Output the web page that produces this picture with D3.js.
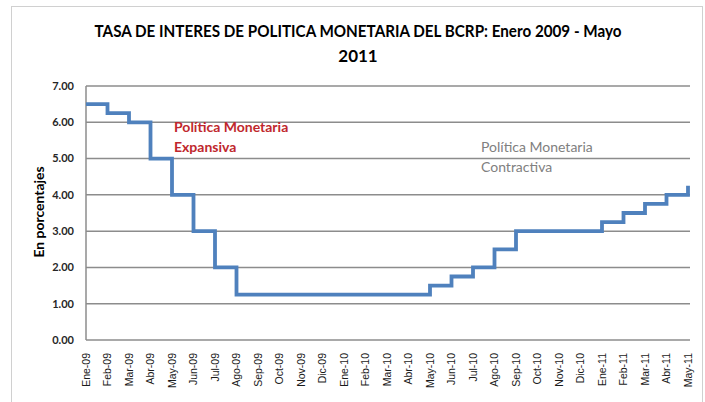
<!DOCTYPE html>
<html><head><meta charset="utf-8">
<script src="https://cdn.jsdelivr.net/npm/d3@7/dist/d3.min.js"></script>
<style>body{margin:0;background:#fff}svg{display:block}</style>
</head><body>
<script>
const months = ["Ene-09","Feb-09","Mar-09","Abr-09","May-09","Jun-09","Jul-09","Ago-09","Sep-09","Oct-09","Nov-09","Dic-09",
"Ene-10","Feb-10","Mar-10","Abr-10","May-10","Jun-10","Jul-10","Ago-10","Sep-10","Oct-10","Nov-10","Dic-10",
"Ene-11","Feb-11","Mar-11","Abr-11","May-11"];
const rates = [6.50,6.25,6.00,5.00,4.00,3.00,2.00,1.25,1.25,1.25,1.25,1.25,
1.25,1.25,1.25,1.25,1.50,1.75,2.00,2.50,3.00,3.00,3.00,3.00,
3.25,3.50,3.75,4.00,4.25];
const yTicks = [0,1,2,3,4,5,6,7];
const titleLines = ["TASA DE INTERES DE POLITICA MONETARIA DEL BCRP: Enero 2009 - Mayo","2011"];
const noteExp = ["Política Monetaria","Expansiva"];
const noteCon = ["Política Monetaria","Contractiva"];

const W=705,H=402;
const svg=d3.select("body").append("svg").attr("width",W).attr("height",H);
const font="Lato, 'Open Sans', sans-serif";

svg.append("rect").attr("x",11.5).attr("y",6.5).attr("width",691).attr("height",420)
  .attr("fill","#fff").attr("stroke","#d0d0d0").attr("stroke-width",1);

const x=d3.scalePoint().domain(months).range([86,688]);
const y=d3.scaleLinear().domain([0,7]).range([340,86]);

// gridlines
svg.append("g").selectAll("line").data(yTicks).join("line")
  .attr("x1",86).attr("x2",690).attr("y1",d=>y(d)).attr("y2",d=>y(d))
  .attr("stroke","#8c8c8c").attr("stroke-width",1.5);
// left axis line
svg.append("line").attr("x1",86).attr("x2",86).attr("y1",y(7)).attr("y2",y(0))
  .attr("stroke","#8c8c8c").attr("stroke-width",1.5);

// y labels
svg.append("g").selectAll("text").data(yTicks).join("text")
  .attr("x",74).attr("y",d=>y(d)).attr("dy","0.35em").attr("text-anchor","end")
  .attr("font-family",font).attr("font-size",11).attr("font-weight","bold").attr("fill","#262626")
  .text(d=>d3.format(".2f")(d));

// x labels
svg.append("g").selectAll("text").data(months).join("text")
  .attr("transform",d=>`translate(${x(d)},353) rotate(-90)`)
  .attr("text-anchor","end").attr("dy","0.35em")
  .attr("font-family","'Liberation Sans', Arial, sans-serif").attr("font-size",10.5).attr("fill","#1a1a1a")
  .text(d=>d);

// y title
svg.append("text").attr("transform","translate(39,212) rotate(-90)")
  .attr("text-anchor","middle").attr("dy","0.35em")
  .attr("font-family",font).attr("font-size",13).attr("font-weight","bold").attr("fill","#000")
  .attr("textLength",91).attr("lengthAdjust","spacingAndGlyphs")
  .text("En porcentajes");

// line
const line=d3.line().x((d,i)=>x(months[i])).y(d=>y(d)).curve(d3.curveStepAfter);
svg.append("path").datum(rates).attr("d",line).attr("fill","none")
  .attr("stroke","#4F81BD").attr("stroke-width",3.8);

// title
svg.append("g").selectAll("text").data(titleLines).join("text")
  .attr("x",358).attr("y",(d,i)=>37+i*25).attr("text-anchor","middle")
  .attr("font-family",font).attr("font-size",17).attr("font-weight","bold").attr("fill","#000")
  .each(function(d,i){ if(i===0) d3.select(this).attr("textLength",527).attr("lengthAdjust","spacingAndGlyphs"); })
  .text(d=>d);

// notes
svg.append("g").selectAll("text").data(noteExp).join("text")
  .attr("x",174).attr("y",(d,i)=>127+i*20).attr("dy","0.35em")
  .attr("font-family",font).attr("font-size",14).attr("font-weight","bold").attr("fill","#C0282D")
  .text(d=>d);
svg.append("g").selectAll("text").data(noteCon).join("text")
  .attr("x",481).attr("y",(d,i)=>147+i*20).attr("dy","0.35em")
  .attr("font-family",font).attr("font-size",14).attr("fill","#808080")
  .text(d=>d);
</script>
</body></html>
